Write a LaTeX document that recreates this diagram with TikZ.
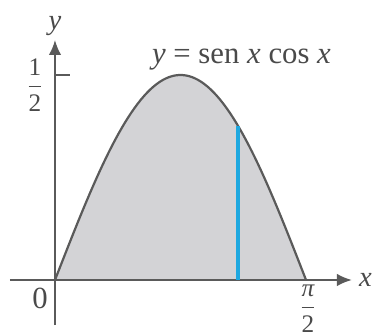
\documentclass[tikz,border=0pt]{standalone}
\usepackage{fontspec}
\setmainfont{Liberation Serif}
\usepackage{amsmath}
\usepackage{tikz}
\usetikzlibrary{arrows.meta,positioning,calc}
\definecolor{areaGray}{HTML}{D3D3D6}
\definecolor{curveGray}{HTML}{5A5A5A}
\definecolor{sliceBlue}{HTML}{1EA8E0}
\definecolor{labelGray}{HTML}{4A4A4A}

\begin{document}
\begin{tikzpicture}[x=2.557cm, y=6.56cm,
    axis/.style={-{Latex[length=2.4mm,width=2mm]}, line width=0.9pt, draw=curveGray},
    lbl/.style={text=labelGray, inner sep=0pt, font=\fontsize{13}{14}\selectfont},
    fraclbl/.style={lbl, font=\fontsize{11.5}{13}\selectfont}]
    \useasboundingbox (-0.3441,-0.1341) rectangle (1.996,0.6829);
    % Region
    \fill[areaGray] (0,0) -- plot[domain=0:pi/2, samples=80] (\x, {sin(2*\x r)/2}) -- cycle;
    % Axis
    \coordinate (O) at (0,0);
    \coordinate (xstart) at (-0.2816,0);
    \coordinate (xend) at (1.858,0);
    \coordinate (ystart) at (0,-0.1098);
    \coordinate (yend) at (0,0.5854);
    \coordinate (half) at (0,0.5);
    \coordinate (halftick) at ($(half)+(0.24cm,0)$);
    \coordinate (pihalf) at (pi/2,0);
    \draw[axis] (xstart) -- (xend) node[right=0.1cm, lbl] (xlbl) {\textit{x}};
    \draw[axis] (ystart) -- (yend) node[above=0.06cm, lbl] (ylbl) {\textit{y}};
    \draw[line width=0.9pt, curveGray] (half) -- (halftick);
    \node[fraclbl, anchor=east] (halflbl) at ($(half)+(-0.17cm,-0.16cm)$) {$\dfrac{\textrm{1}}{\textrm{2}}$};
    \node[lbl, font=\fontsize{14}{15}\selectfont] (zerolbl) at ($(O)+(-0.24cm,-0.30cm)$) {0};
    \node[fraclbl] (pilbl) at ($(pihalf)+(0.03cm,-0.46cm)$) {$\dfrac{\textit{π}}{\textrm{2}}$};
    % Curve
    \draw[line width=1pt, curveGray] plot[domain=0:pi/2, samples=80] (\x, {sin(2*\x r)/2});
    \node[lbl, anchor=base, font=\fontsize{14}{15}\selectfont] (curvelbl) at (1.167,0.529)
        {\textit{y} = sen \textit{x} cos \textit{x}};
    % Slice
    \coordinate (slicebot) at (1.145,0);
    \coordinate (slicetop) at (1.145,{sin(2*1.145 r)/2});
    \draw[line width=1.4pt, sliceBlue] (slicebot) -- (slicetop);
\end{tikzpicture}
\end{document}
